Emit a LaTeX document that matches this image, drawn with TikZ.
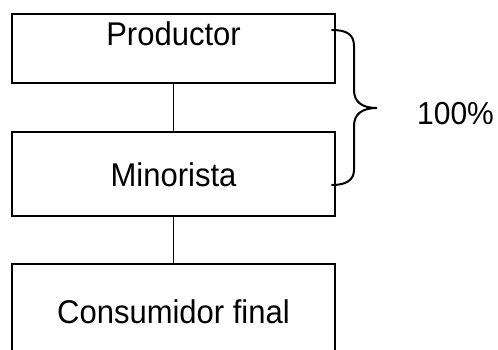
\documentclass[tikz,border=0pt]{standalone}
\usepackage{fontspec}
\setmainfont{Liberation Sans}
\begin{document}
\begin{tikzpicture}[x=1pt,y=-1pt,
  box/.style={draw=black,line width=1.3pt,rectangle,inner sep=0pt,minimum width=323pt},
  lbl/.style={font=\fontsize{31}{37}\selectfont,inner sep=0pt,yscale=1.06},
  conn/.style={draw=black,line width=1.3pt},
  bracepath/.style={draw=black,line width=2pt,line cap=round}]
\useasboundingbox (0,0) rectangle (498,349);
\clip (0,0) rectangle (498,349);
\node[box,minimum height=69pt] (p) at (173.5,48.5) {};
\node[box,minimum height=84pt] (m) at (173.5,174) {};
\node[box,minimum height=92pt] (c) at (173.5,310) {};
\node[lbl] (pt) at (173.5,33.5) {Productor};
\node[lbl] (mt) at (173.5,174.5) {Minorista};
\node[lbl] (ct) at (173.5,312) {Consumidor final};
\node[font=\fontsize{30}{36}\selectfont,inner sep=0pt,yscale=1.06] (pct) at (455.5,114) {100\%};
\draw[conn] (p.south) -- (m.north);
\draw[conn] (m.south) -- (c.north);
\coordinate (bt) at (332,30);
\coordinate (tip) at (377,108);
\coordinate (bb) at (332,185);
\draw[bracepath] (bt) .. controls (346,30) and (354,34) .. (354,46) -- (354,90)
  .. controls (354,102) and (362,108) .. (tip)
  .. controls (362,108) and (354,114) .. (354,126) -- (354,170)
  .. controls (354,180) and (346,185) .. (bb);
\end{tikzpicture}
\end{document}
